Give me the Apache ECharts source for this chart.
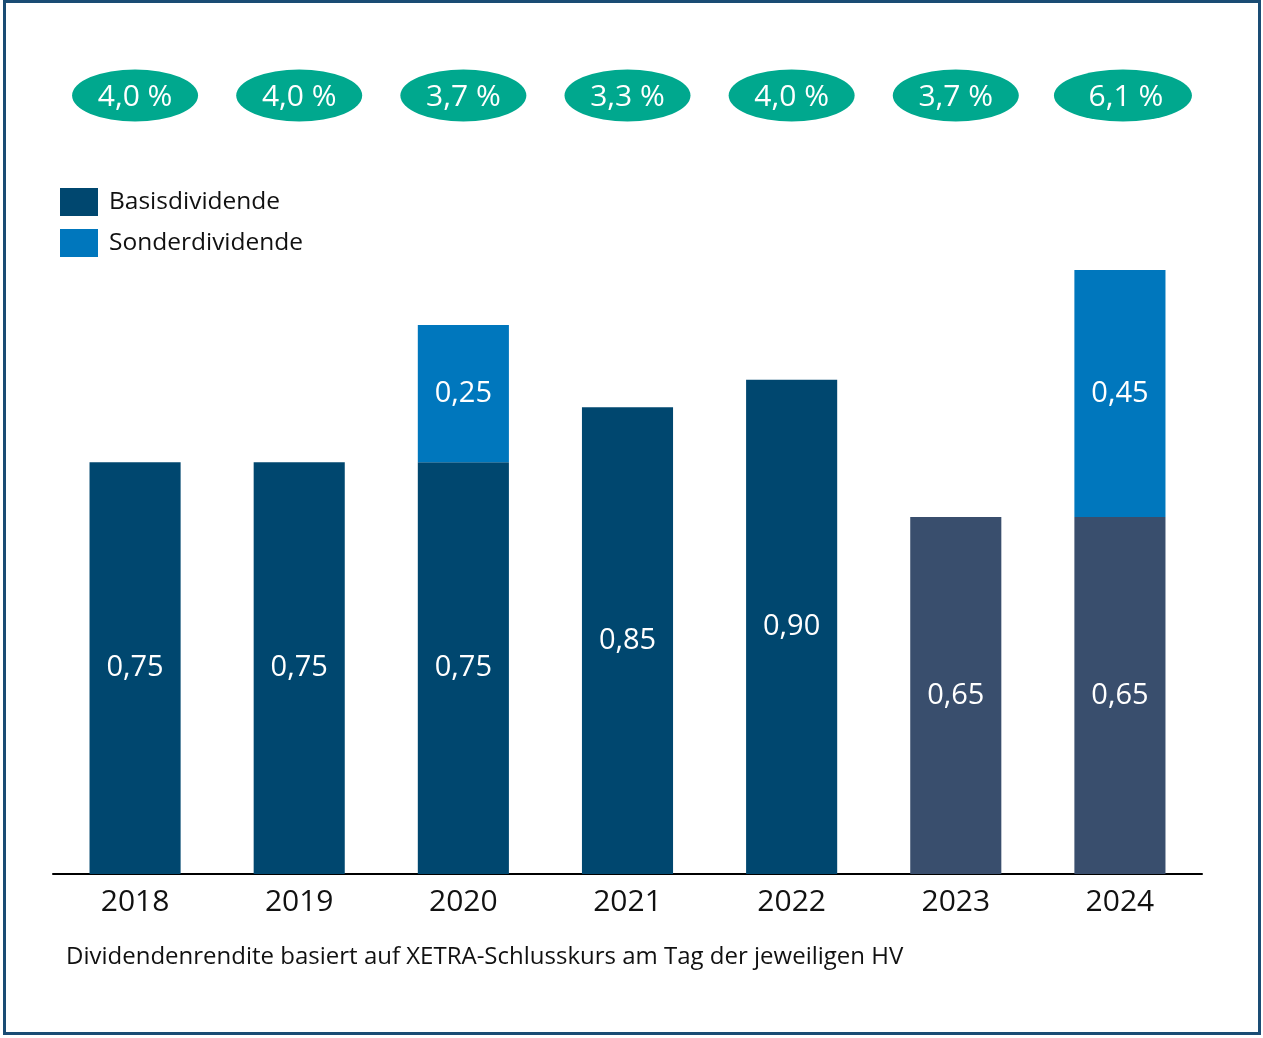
<!DOCTYPE html>
<html>
<head>
<meta charset="utf-8">
<script src="https://cdn.jsdelivr.net/npm/echarts@6/dist/echarts.min.js"></script>
<style>
  html, body { margin: 0; padding: 0; background: #fff; }
  #chart { width: 1263px; height: 1038px; }
</style>
</head>
<body>
<div id="chart"></div>
<script>
var years = ['2018', '2019', '2020', '2021', '2022', '2023', '2024'];
var basis = [0.75, 0.75, 0.75, 0.85, 0.90, 0.65, 0.65];
var sonder = [null, null, 0.25, null, null, null, 0.45];
var rendite = ['4,0 %', '4,0 %', '3,7 %', '3,3 %', '4,0 %', '3,7 %', '6,1 %'];

var dark = '#00476f';
var grey = '#394e6d';
var light = '#0077bd';
var green = '#00a88e';
var font = "'Open Sans', 'Noto Sans', sans-serif";

function fmt(v) {
  return v.toFixed(2).replace('.', ',');
}

var chart = echarts.init(document.getElementById('chart'));
chart.setOption({
  animation: false,
  textStyle: { fontFamily: font },
  title: {
    text: 'Dividendenrendite basiert auf XETRA-Schlusskurs am Tag der jeweiligen HV',
    left: 61,
    top: 940,
    textStyle: { fontFamily: font, fontSize: 24, fontWeight: 'normal', color: '#111' }
  },
  legend: {
    orient: 'vertical',
    left: 60,
    top: 188,
    padding: 0,
    itemWidth: 38,
    itemHeight: 28,
    itemGap: 13,
    icon: 'rect',
    textStyle: { fontFamily: font, fontSize: 24.5, color: '#111', padding: [5, 0, 0, 6] },
    data: [
      { name: 'Basisdividende', itemStyle: { color: dark } },
      { name: 'Sonderdividende', itemStyle: { color: light } }
    ]
  },
  graphic: [{
    type: 'rect',
    shape: { x: 4.5, y: 1.5, width: 1255, height: 1032 },
    style: { fill: 'none', stroke: '#1a4c74', lineWidth: 3 },
    z: 100
  }],
  grid: [
    { left: 53, right: 61, top: 270, bottom: 164 },
    { left: 53, right: 61, top: 69, height: 53 }
  ],
  xAxis: [
    {
      type: 'category',
      gridIndex: 0,
      data: years,
      axisLine: { lineStyle: { color: '#000', width: 2 } },
      axisTick: { show: false },
      axisLabel: { fontFamily: font, fontSize: 30, color: '#111', margin: 13 }
    },
    {
      type: 'category',
      gridIndex: 1,
      data: years,
      show: false
    }
  ],
  yAxis: [
    { type: 'value', gridIndex: 0, min: 0, max: 1.1, show: false, splitLine: { show: false } },
    { type: 'value', gridIndex: 1, min: 0, max: 1, show: false, splitLine: { show: false } }
  ],
  series: [
    {
      name: 'Basisdividende',
      type: 'bar',
      stack: 'div',
      barWidth: '55.5%',
      data: basis.map(function (v, i) {
        return { value: v, itemStyle: { color: i >= 5 ? grey : dark } };
      }),
      label: {
        show: true,
        position: 'inside',
        color: '#fff',
        fontFamily: font,
        fontSize: 29,
        formatter: function (p) { return fmt(p.value); }
      }
    },
    {
      name: 'Sonderdividende',
      type: 'bar',
      stack: 'div',
      barWidth: '55.5%',
      itemStyle: { color: light },
      data: sonder,
      label: {
        show: true,
        position: 'inside',
        color: '#fff',
        fontFamily: font,
        fontSize: 29,
        formatter: function (p) { return p.value ? fmt(p.value) : ''; }
      }
    },
    {
      name: 'Rendite',
      type: 'scatter',
      xAxisIndex: 1,
      yAxisIndex: 1,
      symbol: 'circle',
      itemStyle: { color: green, opacity: 1 },
      data: rendite.map(function (t, i) {
        var last = i === rendite.length - 1;
        return {
          value: [years[i], 0.5],
          symbolSize: last ? [138, 52] : [126, 52],
          symbolOffset: last ? [3, 0] : [0, 0],
          label: { formatter: t, offset: last ? [3, 2] : [0, 2] }
        };
      }),
      label: {
        show: true,
        position: 'inside',
        color: '#fff',
        fontFamily: font,
        fontSize: 30
      }
    }
  ]
});
</script>
</body>
</html>
